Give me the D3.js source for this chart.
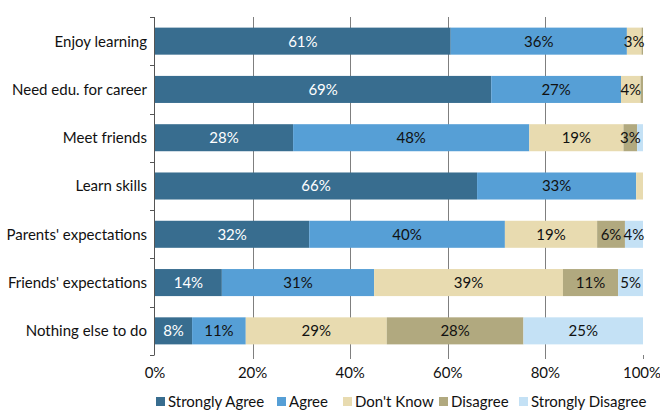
<!DOCTYPE html>
<html><head><meta charset="utf-8">
<script src="https://cdn.jsdelivr.net/npm/d3@7"></script>
<style>
body{margin:0;background:#fff;}
text{font-family:Lato,"Open Sans",sans-serif;}
</style></head>
<body><svg id="c" width="660" height="410"></svg>
<script>
const categories = ["Enjoy learning","Need edu. for career","Meet friends","Learn skills","Parents' expectations","Friends' expectations","Nothing else to do"];
const seriesNames = ["Strongly Agree","Agree","Don't Know","Disagree","Strongly Disagree"];
const colors = ["#386d8f","#569fd6","#e8dbb0","#b1a97f","#c4e1f5"];
const stronglyAgree    = [60.6, 68.9, 28.3, 66.0, 31.6, 13.7, 7.6];
const agree            = [36.1, 26.6, 48.4, 32.6, 40.1, 31.2, 11.0];
const dontKnow         = [3.0, 4.0, 19.3, 1.4, 18.9, 38.7, 28.9];
const disagree         = [0.3, 0.5, 2.8, 0.0, 5.7, 11.3, 28.0];
const stronglyDisagree = [0.0, 0.0, 1.2, 0.0, 3.7, 5.1, 24.5];
const xTicks = [0,20,40,60,80,100];

const seriesVals = [stronglyAgree, agree, dontKnow, disagree, stronglyDisagree];
const rows = categories.map((c,i)=>{const o={cat:c}; seriesNames.forEach((s,j)=>o[s]=seriesVals[j][i]); return o;});
const stack = d3.stack().keys(seriesNames)(rows);

const svg = d3.select("#c");
const m = {l:155, r:643, t:17, b:355};
const FS = 15;
const x = d3.scaleLinear().domain([0,100]).range([m.l, m.r]);
const y = d3.scaleBand().domain(categories).range([m.t, m.b]).paddingInner(0.44).paddingOuter(0.22);

// gridlines
svg.append("g").selectAll("line").data(xTicks.filter(t=>t>0 && t<100)).join("line")
  .attr("x1",d=>Math.round(x(d))+0.5).attr("x2",d=>Math.round(x(d))+0.5)
  .attr("y1",m.t).attr("y2",m.b+4).attr("stroke","#7f7f7f").attr("stroke-width",1);
svg.append("line").attr("x1",Math.round(x(100))+0.5).attr("x2",Math.round(x(100))+0.5)
  .attr("y1",m.b).attr("y2",m.b+4).attr("stroke","#7f7f7f");

// bars
const g = svg.append("g");
stack.forEach((s,si)=>{
  g.append("g").attr("fill",colors[si]).selectAll("rect").data(s).join("rect")
    .attr("x",d=>x(d[0])).attr("width",d=>x(d[1])-x(d[0]))
    .attr("y",d=>y(d.data.cat)).attr("height",y.bandwidth());
});
// labels
stack.forEach((s,si)=>{
  g.append("g").selectAll("text").data(s.filter(d=>d[1]-d[0]>=2.5)).join("text")
    .attr("x",d=>(x(d[0])+x(d[1]))/2).attr("y",d=>y(d.data.cat)+y.bandwidth()/2)
    .attr("dy","0.36em").attr("text-anchor","middle").attr("font-size",FS)
    .attr("fill",si===0?"#fff":"#111")
    .text(d=>Math.round(d[1]-d[0])+"%");
});

// y axis
const step = (m.b-m.t)/categories.length;
svg.append("line").attr("x1",154.5).attr("x2",154.5).attr("y1",m.t).attr("y2",m.b).attr("stroke","#555");
svg.append("g").selectAll("line").data(d3.range(categories.length+1)).join("line")
  .attr("x1",150).attr("x2",154.5).attr("y1",d=>Math.round(m.t+d*step)+0.5).attr("y2",d=>Math.round(m.t+d*step)+0.5)
  .attr("stroke","#555");
svg.append("g").selectAll("text").data(categories).join("text")
  .attr("x",147).attr("y",d=>y(d)+y.bandwidth()/2).attr("dy","0.36em")
  .attr("text-anchor","end").attr("font-size",FS).attr("fill","#111").text(d=>d);

// x tick labels
svg.append("g").selectAll("text").data(xTicks).join("text")
  .attr("x",d=>d===100?x(d)-1:x(d)).attr("y",378).attr("text-anchor","middle").attr("font-size",FS).attr("fill","#111")
  .text(d=>d+"%");

// legend
const legendX = [156, 277, 343, 439, 519];
const lg = svg.append("g").selectAll("g").data(seriesNames).join("g")
  .attr("transform",(d,i)=>`translate(${legendX[i]},397)`);
lg.append("rect").attr("width",9).attr("height",9).attr("fill",(d,i)=>colors[i]);
lg.append("text").attr("x",12).attr("y",4.5).attr("dy","0.36em").attr("font-size",FS).attr("fill","#111").text(d=>d);
</script></body></html>
